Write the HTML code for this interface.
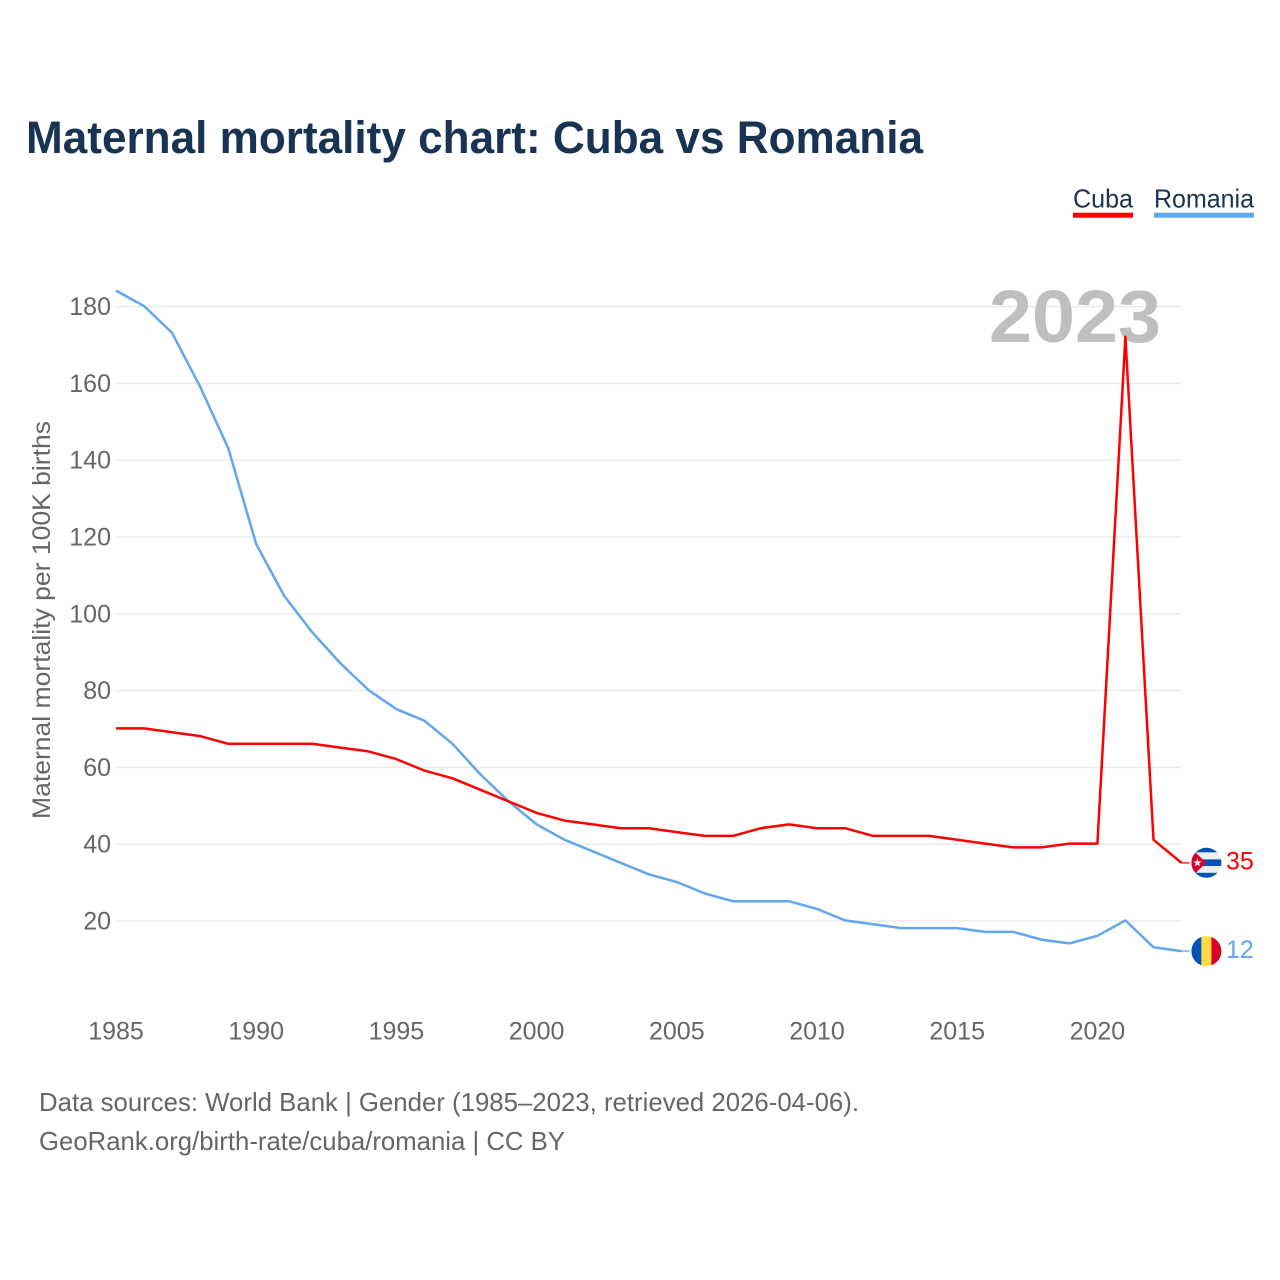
<!DOCTYPE html>
<html>
<head>
<meta charset="utf-8">
<style>
html,body{margin:0;padding:0;background:#fff;}
svg{display:block;}
text{font-family:"Liberation Sans",sans-serif;}
</style>
</head>
<body>
<svg id="chart" xmlns="http://www.w3.org/2000/svg" width="1280" height="1280" viewBox="0 0 1280 1280">
<rect width="1280" height="1280" fill="#ffffff"/>
<text x="26" y="153" font-size="45" font-weight="700" fill="#193353" textLength="897" lengthAdjust="spacingAndGlyphs">Maternal mortality chart: Cuba vs Romania</text>
<text x="1073" y="207.5" font-size="26" fill="#193353" textLength="60" lengthAdjust="spacingAndGlyphs">Cuba</text>
<rect x="1073" y="212.7" width="60" height="5" fill="#ff0000"/>
<text x="1154" y="207.5" font-size="26" fill="#193353" textLength="100" lengthAdjust="spacingAndGlyphs">Romania</text>
<rect x="1154" y="212.7" width="100" height="5" fill="#62a6ee"/>
<g id="grid"></g>
<g id="yticks"></g>
<g id="xticks"></g>
<text transform="translate(50,620) rotate(-90)" text-anchor="middle" font-size="25" fill="#666666" textLength="398" lengthAdjust="spacingAndGlyphs">Maternal mortality per 100K births</text>
<text x="1161" y="342" text-anchor="end" font-size="74" font-weight="700" fill="#bfbfbf" textLength="172" lengthAdjust="spacingAndGlyphs">2023</text>
<g id="series" transform="translate(0,-0.6)"></g>
<g id="endmarks"></g>
<text x="39" y="1111" font-size="26" fill="#666666" textLength="820" lengthAdjust="spacingAndGlyphs">Data sources: World Bank | Gender (1985–2023, retrieved 2026-04-06).</text>
<text x="39" y="1150" font-size="26" fill="#666666" textLength="526" lengthAdjust="spacingAndGlyphs">GeoRank.org/birth-rate/cuba/romania | CC BY</text>
</svg>
<script>
const years = [1985,1986,1987,1988,1989,1990,1991,1992,1993,1994,1995,1996,1997,1998,1999,2000,2001,2002,2003,2004,2005,2006,2007,2008,2009,2010,2011,2012,2013,2014,2015,2016,2017,2018,2019,2020,2021,2022,2023];
const cubaValues = [70,70,69,68,66,66,66,66,65,64,62,59,57,54,51,48,46,45,44,44,43,42,42,44,45,44,44,42,42,42,41,40,39,39,40,40,172,41,35];
const romaniaValues = [184,180,173,159,143,118,104.5,95,87,80,75,72,66,58,51,45,41,38,35,32,30,27,25,25,25,23,20,19,18,18,18,17,17,15,14,16,20,13,12];
const yTickValues = [20,40,60,80,100,120,140,160,180];
const xTickValues = [1985,1990,1995,2000,2005,2010,2015,2020];

const NS = 'http://www.w3.org/2000/svg';
function xScale(year){ return 116 + (year - 1985) * 28.04; }
function yScale(value){ return 997.8 - value * 3.84; }
function make(tag, attrs, parent){
  const el = document.createElementNS(NS, tag);
  for (const k in attrs) el.setAttribute(k, attrs[k]);
  parent.appendChild(el);
  return el;
}
const grid = document.getElementById('grid');
const yticks = document.getElementById('yticks');
const xticks = document.getElementById('xticks');
const series = document.getElementById('series');
const endmarks = document.getElementById('endmarks');

yTickValues.forEach(function(v){
  const line = make('line', {x1:116, x2:1181, y1:yScale(v), y2:yScale(v), stroke:'#ebebeb', 'stroke-width':1.5}, grid);
  
  
  const t = make('text', {x:111, y:yScale(v)+8.5, 'text-anchor':'end', 'font-size':25, fill:'#666666'}, yticks);
  t.textContent = v;
  
  
});
xTickValues.forEach(function(v){
  const t = make('text', {x:xScale(v), y:1039.5, 'text-anchor':'middle', 'font-size':25, fill:'#666666'}, xticks);
  t.textContent = v;
  
  
});
function points(vals){
  return vals.map(function(v,i){ return xScale(years[i]).toFixed(1)+','+yScale(v).toFixed(1); }).join(' ');
}
const romaniaLine = make('polyline', {points:points(romaniaValues), fill:'none', stroke:'#62a6ee', 'stroke-width':2.5, 'stroke-linejoin':'round'}, series);


const cubaLine = make('polyline', {points:points(cubaValues), fill:'none', stroke:'#ff0000', 'stroke-width':2.5, 'stroke-linejoin':'round'}, series);



const lastX = xScale(years[years.length-1]);

// Cuba end marker
const cubaY = yScale(cubaValues[cubaValues.length-1]) - 0.6;
const cubaLead = make('line', {x1:lastX, x2:lastX+8, y1:cubaY, y2:cubaY, stroke:'#ff0000', 'stroke-width':2, opacity:0.7}, endmarks);


const cubaFlag = make('g', {transform:'translate(1206.4,'+cubaY+')'}, endmarks);


make('clipPath', {id:'clipCuba'}, cubaFlag).appendChild(document.createElementNS(NS,'circle')).setAttribute('r','15');
const cg = make('g', {'clip-path':'url(#clipCuba)'}, cubaFlag);
make('rect', {x:-16, y:-16, width:32, height:32, fill:'#eeeeee'}, cg);
make('rect', {x:-16, y:-16, width:32, height:5.5, fill:'#0052b4'}, cg);
make('rect', {x:-16, y:-3.4, width:32, height:6.6, fill:'#0052b4'}, cg);
make('rect', {x:-16, y:10, width:32, height:6, fill:'#0052b4'}, cg);
make('polygon', {points:'-15,-14 0,0 -15,14', fill:'#d80027'}, cg);
make('polygon', {transform:'translate(-9,0)', points:'0,-4.5 1.06,-1.46 4.28,-1.39 1.71,0.56 2.65,3.64 0,1.8 -2.65,3.64 -1.71,0.56 -4.28,-1.39 -1.06,-1.46', fill:'#eeeeee'}, cg);
const cubaLabel = make('text', {x:1226, y:cubaY+6.8, 'font-size':25, fill:'#ff0000'}, endmarks);
cubaLabel.textContent = cubaValues[cubaValues.length-1];



// Romania end marker
const romaniaY = yScale(romaniaValues[romaniaValues.length-1]) - 0.6;
const romaniaLead = make('line', {x1:lastX, x2:lastX+8, y1:romaniaY, y2:romaniaY, stroke:'#62a6ee', 'stroke-width':2, opacity:0.7}, endmarks);


const romaniaFlag = make('g', {transform:'translate(1206.4,'+romaniaY+')'}, endmarks);


make('clipPath', {id:'clipRomania'}, romaniaFlag).appendChild(document.createElementNS(NS,'circle')).setAttribute('r','15');
const rg = make('g', {'clip-path':'url(#clipRomania)'}, romaniaFlag);
make('rect', {x:-16, y:-16, width:11, height:32, fill:'#0052b4'}, rg);
make('rect', {x:-5, y:-16, width:10, height:32, fill:'#ffda44'}, rg);
make('rect', {x:5, y:-16, width:11, height:32, fill:'#d80027'}, rg);
const romaniaLabel = make('text', {x:1226, y:romaniaY+6.8, 'font-size':25, fill:'#62a6ee'}, endmarks);
romaniaLabel.textContent = romaniaValues[romaniaValues.length-1];


</script>
</body>
</html>
